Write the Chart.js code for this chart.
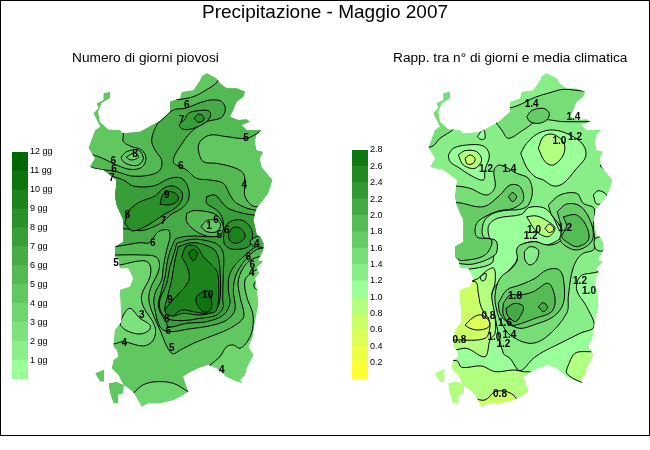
<!DOCTYPE html>
<html>
<head>
<meta charset="utf-8">
<script src="https://cdn.jsdelivr.net/npm/chart.js@4"></script>
<style>
  html, body { margin: 0; padding: 0; background: #fff; }
  #frame { position: absolute; left: 0; top: 0; width: 648px; height: 434px; border: 1px solid #000; }
  canvas { position: absolute; }
  .txt { position: absolute; font-family: "Liberation Sans", Arial, sans-serif; color: #000; white-space: nowrap; }
</style>
</head>
<body>
<div id="frame"></div>
<canvas id="map" width="650" height="450" style="left:0;top:0"></canvas>
<canvas id="legendDays" width="60" height="243" style="left:12px;top:144px"></canvas>
<canvas id="legendRatio" width="60" height="245" style="left:352px;top:142px"></canvas>
<div class="txt" style="left:0;width:650px;text-align:center;top:1px;font-size:19px">Precipitazione - Maggio 2007</div>
<div class="txt" style="left:72px;top:50px;font-size:13.7px">Numero di giorni piovosi</div>
<div class="txt" style="left:393px;top:50px;font-size:13.7px">Rapp. tra n° di giorni e media climatica</div>
<script>
// legend
const dayTicks = ['', '1 gg', '2 gg', '3 gg', '4 gg', '5 gg', '6 gg', '7 gg', '8 gg', '9 gg', '10 gg', '11 gg', '12 gg'];
const ratioTicks = ['', '0.2', '0.4', '0.6', '0.8', '1.0', '1.2', '1.4', '1.6', '1.8', '2.0', '2.2', '2.4', '2.6', '2.8'];
const dayColors = ['#99ff99', '#8bf08b', '#7de17d', '#6fd56f', '#61c761', '#53b953', '#46ab46', '#389e38', '#2a902a', '#1c821c', '#0e740e', '#006600'];
const ratioColors = ['#ffff33', '#eeff44', '#ddff55', '#ccff66', '#b3ff80', '#99ff99', '#88ee88', '#77dd77', '#66cc66', '#55bb55', '#44aa44', '#339933', '#228822', '#117711'];

// coast, in map grid units
const sardegna = [[420,0],[425,-12],[440,-21],[452,-15],[470,-5],[480,10],[500,25],[530,25],[555,35],[550,50],[530,65],[520,90],[510,110],[535,120],[560,118],[570,125],[545,135],[560,150],[590,150],[605,150],[590,165],[585,185],[590,210],[610,215],[600,235],[605,260],[625,285],[638,300],[625,340],[610,360],[590,385],[585,400],[580,420],[585,440],[590,465],[600,470],[610,490],[610,510],[595,540],[610,545],[590,565],[598,580],[585,595],[590,630],[595,670],[582,740],[578,770],[565,800],[580,825],[560,865],[555,885],[540,900],[548,910],[520,900],[500,890],[470,865],[445,855],[415,865],[385,880],[370,890],[385,935],[360,950],[340,960],[300,970],[265,970],[245,980],[240,970],[222,940],[205,925],[190,915],[175,885],[155,865],[160,840],[175,830],[170,810],[160,800],[165,750],[185,725],[180,630],[210,620],[220,595],[205,565],[180,565],[175,540],[165,530],[165,500],[190,485],[190,420],[170,375],[165,350],[170,300],[130,270],[100,265],[90,260],[105,235],[85,205],[105,150],[120,140],[100,100],[115,85],[110,70],[130,60],[130,40],[150,35],[150,55],[125,70],[115,95],[120,125],[145,148],[180,150],[190,160],[240,155],[300,122],[330,95],[330,65],[360,55],[365,35],[400,30]];
const santAntioco = [[145,910],[170,905],[192,915],[190,940],[175,945],[175,970],[160,970],[150,940]];
const sanPietro = [[105,880],[133,868],[132,905],[120,905]];
const tavolara = [[598,212],[608,215],[606,218],[598,216]];
const coastPieces = [sardegna, santAntioco, sanPietro, tavolara];

// rainy days: [band, ring]
const daysLayers = [
  [3, [[220,940],[235,925],[255,912],[290,905],[340,910],[385,935],[400,940],[400,1010],[200,1010],[205,945]]],
  [3, [[450,855],[480,830],[500,800],[520,795],[540,805],[565,780],[578,745],[578,700],[560,650],[555,600],[580,575],[600,565],[650,565],[650,1000],[435,1000]]],
  [2, [[590,600],[582,612],[585,625],[598,632],[640,632],[640,600]]],
  [3, [[180,555],[250,542],[270,555],[270,590],[245,645],[250,680],[285,740],[280,780],[250,798],[190,785],[160,792],[100,792],[100,555]]],
  [2, [[180,735],[190,705],[210,685],[240,715],[270,735],[268,750],[240,762],[200,752]]],
  [5, [[190,120],[190,165],[190,185],[215,200],[245,210],[258,235],[245,262],[210,268],[170,255],[110,228],[70,225],[100,525],[165,525],[245,525],[290,532],[298,565],[270,630],[268,670],[300,750],[335,820],[365,808],[400,790],[450,770],[500,750],[540,725],[552,705],[540,650],[535,600],[560,550],[600,530],[700,530],[700,380],[585,380],[555,350],[555,310],[550,280],[520,262],[470,250],[430,245],[415,210],[420,185],[450,165],[500,170],[560,175],[600,155],[650,130],[650,-50],[475,-50],[475,0],[430,35],[400,50],[360,58],[300,60]]],
  [4, [[183,232],[200,215],[235,210],[250,235],[235,255],[210,255],[190,245]]],
  [3, [[198,232],[225,218],[235,232],[215,240]]],
  [6, [[60,500],[160,500],[240,488],[268,488],[295,455],[325,450],[330,470],[320,510],[310,560],[305,600],[285,640],[283,680],[310,750],[400,745],[460,735],[500,720],[525,690],[520,630],[530,580],[565,530],[600,505],[700,505],[700,390],[585,390],[530,370],[510,345],[490,310],[450,300],[410,295],[380,270],[340,245],[370,185],[400,150],[440,125],[480,115],[493,100],[495,80],[480,62],[440,62],[375,85],[340,90],[305,120],[290,135],[275,180],[285,210],[305,240],[300,270],[270,285],[215,288],[170,275],[135,270],[60,270]]],
  [7, [[375,118],[385,100],[415,92],[445,92],[452,105],[440,125],[400,145],[370,148],[358,135]]],
  [8, [[402,115],[415,103],[430,108],[430,122],[412,126]]],
  [7, [[440,350],[465,345],[490,372],[510,388],[580,405],[700,410],[700,490],[610,490],[545,535],[510,580],[505,630],[510,670],[490,705],[440,725],[380,730],[326,742],[320,730],[295,680],[305,630],[315,590],[325,530],[340,490],[350,475],[400,468],[450,470],[475,462],[490,440],[485,410],[470,390],[440,370]]],
  [7, [[100,285],[150,288],[190,300],[220,318],[280,318],[330,295],[365,295],[385,325],[385,360],[365,385],[330,405],[310,425],[270,445],[240,452],[190,446],[100,446]]],
  [8, [[195,430],[205,395],[235,368],[285,348],[310,325],[340,318],[365,335],[365,360],[345,385],[310,405],[285,422],[245,445],[215,452]]],
  [9, [[300,372],[310,342],[335,335],[355,350],[350,365],[325,375]]],
  [5, [[380,400],[400,392],[440,395],[470,405],[485,425],[490,445],[480,465],[450,470],[410,455],[380,425]]],
  [4, [[423,440],[440,422],[470,420],[482,435],[470,455],[440,455]]],
  [8, [[490,475],[495,445],[510,425],[545,420],[570,440],[578,470],[565,500],[520,508],[495,495]]],
  [9, [[505,462],[520,442],[545,448],[555,472],[530,490],[510,482]]],
  [6, [[570,482],[590,470],[625,470],[625,500],[590,500],[575,495]]],
  [7, [[350,490],[395,478],[440,482],[475,495],[490,520],[490,580],[488,660],[490,680],[470,705],[420,715],[360,722],[315,712],[298,670],[320,610],[330,560],[345,510]]],
  [8, [[355,500],[395,488],[435,495],[468,515],[480,570],[478,670],[460,695],[420,705],[370,700],[335,708],[315,690],[320,660],[335,600],[345,540]]],
  [9, [[365,530],[380,498],[410,500],[430,530],[465,565],[475,590],[470,690],[440,700],[400,695],[365,690],[335,708],[315,695],[330,670],[385,605],[385,570]]],
  [10, [[385,520],[400,508],[412,520],[400,542]]],
  [10, [[408,665],[410,650],[430,635],[445,635],[455,670],[450,692],[430,695],[415,680]]]
];
const daysLabelText = ['6','7','5','8','6','6','7','6','4','9','8','7','6','1','6','5','6','4','5','6','6','4','9','10','8','6','5','3','4','4'];
const daysLabelX = [380,365,558,225,160,162,155,362,553,320,202,310,468,447,500,478,278,590,168,565,577,575,330,443,320,325,335,245,193,485];
const daysLabelY = [75,122,175,222,245,268,295,260,316,345,405,425,420,440,452,467,490,492,550,533,555,580,662,645,718,753,805,707,790,870];

// ratio to climate mean: [band, ring]
const ratioLayers = [
  [7, [[-20,200],[35,200],[60,175],[98,150],[125,120],[130,20],[-20,20]]],
  [7, [[240,90],[290,78],[345,52],[390,38],[430,28],[490,33],[540,33],[560,125],[510,125],[430,125],[360,120],[310,150],[265,175],[245,150],[225,125],[200,105]]],
  [8, [[320,110],[335,92],[370,85],[388,100],[380,120],[355,130],[330,125]]],
  [5, [[172,170],[190,148],[195,175],[182,178]]],
  [5, [[520,345],[535,332],[560,345],[555,365],[530,372]]],
  [5, [[540,258],[555,245],[570,255],[560,270]]],
  [5, [[60,568],[118,568],[165,565],[215,550],[222,525],[232,495],[215,490],[205,440],[232,415],[305,403],[325,383],[370,383],[395,405],[415,445],[425,470],[380,495],[345,485],[305,495],[295,525],[285,550],[240,600],[215,645],[225,710],[250,820],[270,835],[300,872],[340,835],[370,815],[420,790],[480,760],[522,740],[500,680],[470,630],[480,590],[510,580],[620,575],[620,1080],[60,1080]]],
  [4, [[320,410],[350,408],[385,425],[405,445],[385,470],[350,455]]],
  [3, [[375,445],[388,432],[402,447],[388,458]]],
  [7, [[60,318],[108,318],[150,325],[200,345],[225,322],[222,270],[240,255],[290,280],[325,295],[337,335],[325,375],[300,388],[250,392],[210,405],[190,430],[190,470],[225,480],[232,495],[225,525],[160,552],[108,550],[60,550]]],
  [8, [[60,368],[115,368],[190,380],[240,345],[270,315],[300,320],[310,360],[280,385],[240,392],[205,405],[170,430],[170,470],[215,480],[195,525],[125,542],[108,535],[60,535]]],
  [9, [[265,350],[278,338],[290,350],[278,365]]],
  [5, [[302,220],[320,190],[355,160],[400,150],[450,165],[490,195],[497,230],[470,265],[430,310],[400,318],[370,300],[345,290],[320,262]]],
  [4, [[355,205],[370,170],[400,163],[432,190],[430,225],[400,255],[375,245]]],
  [5, [[85,225],[100,205],[140,195],[190,198],[208,225],[195,270],[190,300],[150,285],[120,265],[90,245]]],
  [4, [[115,225],[135,212],[170,215],[185,240],[165,265],[130,255]]],
  [3, [[135,235],[150,225],[165,235],[160,250],[142,252]]],
  [7, [[385,375],[420,345],[470,340],[490,370],[522,385],[520,440],[525,490],[520,510],[490,520],[470,540],[455,580],[445,650],[440,700],[380,770],[330,790],[270,765],[245,730],[230,690],[225,645],[240,595],[275,565],[292,540],[290,510],[300,495],[345,485],[380,495],[410,490],[430,470],[415,430],[395,405]]],
  [6, [[313,515],[330,500],[355,510],[350,540],[330,555],[315,540]]],
  [8, [[412,395],[440,372],[480,378],[510,420],[520,470],[505,495],[470,510],[440,500],[420,480],[425,450]]],
  [9, [[430,410],[470,405],[500,440],[505,480],[470,500],[440,485],[425,470],[440,440]]],
  [6, [[525,475],[550,470],[552,510],[530,510],[522,490]]],
  [8, [[235,670],[260,630],[300,615],[345,595],[380,570],[415,568],[430,595],[430,670],[400,710],[340,735],[300,745],[265,730],[240,700]]],
  [9, [[250,670],[270,645],[300,645],[340,635],[385,610],[405,655],[395,695],[345,715],[305,730],[275,735],[250,705]]],
  [10, [[258,685],[285,670],[310,680],[300,710],[285,725],[262,705]]],
  [10, [[355,680],[370,668],[383,682],[370,695]]],
  [4, [[60,610],[165,600],[200,572],[222,565],[225,610],[215,645],[225,710],[225,760],[210,780],[195,830],[140,805],[105,810],[60,810]]],
  [5, [[180,590],[198,580],[195,600],[185,602]]],
  [3, [[60,610],[165,605],[175,640],[180,670],[190,695],[205,715],[210,740],[195,775],[110,780],[60,780]]],
  [2, [[135,735],[160,712],[185,705],[208,725],[205,742],[175,750],[150,745]]],
  [4, [[20,842],[110,842],[125,862],[185,858],[225,875],[280,870],[310,875],[335,880],[335,1040],[20,1040]]],
  [3, [[160,955],[195,960],[225,935],[260,935],[285,950],[295,975],[300,1000],[160,1000]]],
  [4, [[442,862],[465,820],[515,815],[570,815],[570,930],[480,905],[440,880]]]
];
const ratioLabelText = ['1.4','1.4','1.0','1.2','1.2','1.4','1.0','1.2','1.2','1.8','1.2','1.0','0.8','1.6','1.4','1.0','1.2','0.8','0.8'];
const ratioLabelX = [335,460,418,465,198,268,342,332,435,285,480,507,205,255,268,223,250,118,240];
const ratioLabelY = [72,112,185,172,268,268,450,470,445,648,605,635,708,730,765,772,792,780,942];

function ring(points) {
  return points.concat([points[0]]);
}

function shape(points, color, xAxisID, lined) {
  return {
    data: ring(points),
    xAxisID: xAxisID,
    yAxisID: 'y',
    showLine: true,
    fill: 'shape',
    backgroundColor: color,
    borderColor: lined ? '#000' : color,
    borderWidth: lined ? 1 : 0,
    tension: lined ? 0.35 : 0,
    pointRadius: 0,
    clip: false
  };
}

const datasets = [];
coastPieces.forEach(piece => datasets.push(shape(piece, dayColors[4], 'x', false)));
coastPieces.forEach(piece => datasets.push(shape(piece, ratioColors[6], 'xCoastR', false)));
daysLayers.forEach(layer => datasets.push(shape(layer[1], dayColors[layer[0]], 'x', true)));
ratioLayers.forEach(layer => datasets.push(shape(layer[1], ratioColors[layer[0]], 'xr', true)));
// chart.js paints the first dataset last
datasets.reverse();

// keeps the contours inside the coast on both panels
const coastClip = {
  id: 'coastClip',
  beforeDatasetsDraw(chart) {
    const ctx = chart.ctx;
    ctx.save();
    ctx.beginPath();
    ['x', 'xCoastR'].forEach(id => {
      coastPieces.forEach(piece => {
        piece.forEach((p, i) => {
          const px = chart.scales[id].getPixelForValue(p[0]);
          const py = chart.scales.y.getPixelForValue(p[1]);
          if (i === 0) ctx.moveTo(px, py); else ctx.lineTo(px, py);
        });
        ctx.closePath();
      });
    });
    ctx.clip();
  },
  afterDatasetsDraw(chart) {
    const ctx = chart.ctx;
    ctx.restore();
    ctx.save();
    ctx.fillStyle = '#000';
    ctx.font = 'bold 10px "Liberation Sans", Arial, sans-serif';
    ctx.textAlign = 'center';
    ctx.textBaseline = 'middle';
    daysLabelText.forEach((t, i) => {
      ctx.fillText(t, chart.scales.x.getPixelForValue(daysLabelX[i]), chart.scales.y.getPixelForValue(daysLabelY[i]));
    });
    ratioLabelText.forEach((t, i) => {
      ctx.fillText(t, chart.scales.xr.getPixelForValue(ratioLabelX[i]), chart.scales.y.getPixelForValue(ratioLabelY[i]));
    });
    ctx.restore();
  }
};

new Chart(document.getElementById('map'), {
  type: 'scatter',
  data: { datasets: datasets },
  options: {
    responsive: false,
    animation: false,
    layout: { padding: 0 },
    plugins: { legend: { display: false }, tooltip: { enabled: false } },
    scales: {
      x: { type: 'linear', display: false, min: -180, max: 1770 },
      xr: { type: 'linear', display: false, min: -1260, max: 690 },
      xCoastR: { type: 'linear', display: false, min: -1200, max: 750 },
      y: { type: 'linear', display: false, min: -240, max: 1110, reverse: true }
    }
  },
  plugins: [coastClip]
});

function renderLegend(canvasId, colors, ticks, step) {
  new Chart(document.getElementById(canvasId), {
    type: 'bar',
    data: {
      labels: [''],
      datasets: colors.map(c => ({ data: [step], backgroundColor: c, barPercentage: 1, categoryPercentage: 1 }))
    },
    options: {
      responsive: false,
      animation: false,
      layout: { padding: { top: 8, bottom: 8, right: 0, left: 0 } },
      plugins: { legend: { display: false }, tooltip: { enabled: false } },
      scales: {
        x: { stacked: true, display: false },
        y: {
          stacked: true,
          position: 'right',
          min: 0,
          max: step * colors.length,
          grid: { display: false, drawTicks: false },
          border: { display: false },
          ticks: {
            stepSize: step,
            autoSkip: false,
            padding: 2,
            color: '#000',
            font: { family: '"Liberation Sans", Arial, sans-serif', size: 9 },
            callback: value => ticks[Math.round(value / step)]
          },
          afterFit(scale) {
            scale.width = 44;
            scale.paddingTop = 0;
            scale.paddingBottom = 0;
          }
        }
      }
    }
  });
}

renderLegend('legendDays', dayColors, dayTicks, 1);
renderLegend('legendRatio', ratioColors, ratioTicks, 0.2);
</script>
</body>
</html>
